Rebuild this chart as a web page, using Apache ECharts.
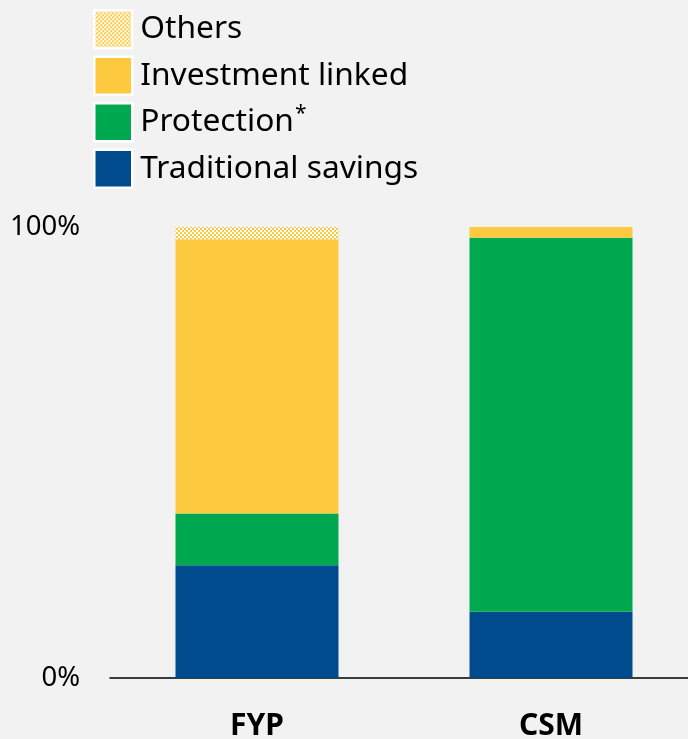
<!DOCTYPE html>
<html>
<head>
<meta charset="utf-8">
<script src="https://cdn.jsdelivr.net/npm/echarts@6/dist/echarts.min.js"></script>
<style>
html,body{margin:0;padding:0;background:#F2F2F2;}
#chart{width:688px;height:739px;}
</style>
</head>
<body>
<div id="chart"></div>
<script>
var categories = ['FYP', 'CSM'];
var traditionalSavings = [25.0, 14.7];
var protection = [11.5, 82.9];
var investmentLinked = [60.8, 2.4];
var others = [2.7, 0];
var yTickLabels = {0: '0%', 100: '100%'};

var YELLOW = '#FDC93F', GREEN = '#00A84F', BLUE = '#004B8D';

// checker pattern for "Others"
var pc = document.createElement('canvas');
pc.width = 4; pc.height = 4;
var pctx = pc.getContext('2d');
pctx.fillStyle = '#FFFFFF'; pctx.fillRect(0, 0, 4, 4);
pctx.fillStyle = YELLOW;
pctx.fillRect(0, 0, 2, 2); pctx.fillRect(2, 2, 2, 2);
var othersPattern = {image: pc, repeat: 'repeat'};

var chart = echarts.init(document.getElementById('chart'), null, {renderer: 'canvas'});

function barSeries(name, data, color) {
  return {
    name: name, type: 'bar', stack: 'total', data: data,
    barWidth: 163,
    itemStyle: {color: color},
    emphasis: {disabled: true}
  };
}

chart.setOption({
  backgroundColor: '#F2F2F2',
  animation: false,
  legend: {
    orient: 'vertical', left: 93, top: 9, padding: 0,
    icon: 'rect', itemWidth: 38, itemHeight: 38, itemGap: 6,
    selectedMode: false,
    itemStyle: {borderColor: '#FFFFFF', borderWidth: 2.5},
    data: ['Others', 'Investment linked', 'Protection', 'Traditional savings'],
    formatter: function (n) {
      if (n === 'Protection') return '{a|Protection}{sup|*}';
      return '{a|' + n + '}';
    },
    textStyle: {
      padding: [0, 0, 0, 3],
      rich: {
        a: {fontFamily: 'Noto Sans', fontSize: 31.7, color: '#000', lineHeight: 38},
        sup: {fontFamily: 'Noto Sans', fontSize: 21, color: '#000', lineHeight: 38, verticalAlign: 'top', padding: [0, 0, 0, 1]}
      }
    }
  },
  grid: {left: 110, top: 227, width: 588, bottom: 61, containLabel: false, outerBoundsMode: 'none'},
  xAxis: {
    type: 'category', data: categories,
    axisLine: {show: true, lineStyle: {color: '#000', width: 1.5}},
    axisTick: {show: false},
    axisLabel: {fontFamily: 'Noto Sans', fontWeight: 'bold', fontSize: 30, color: '#000', margin: 33}
  },
  yAxis: {
    type: 'value', min: 0, max: 100, interval: 100,
    axisLine: {show: false}, axisTick: {show: false}, splitLine: {show: false},
    axisLabel: {
      fontFamily: 'Noto Sans', fontSize: 27.5, color: '#000', margin: 30,
      formatter: function (v) { return yTickLabels[v] || ''; }
    }
  },
  series: [
    barSeries('Traditional savings', traditionalSavings, BLUE),
    barSeries('Protection', protection, GREEN),
    barSeries('Investment linked', investmentLinked, YELLOW),
    barSeries('Others', others, othersPattern)
  ]
});
</script>
</body>
</html>
